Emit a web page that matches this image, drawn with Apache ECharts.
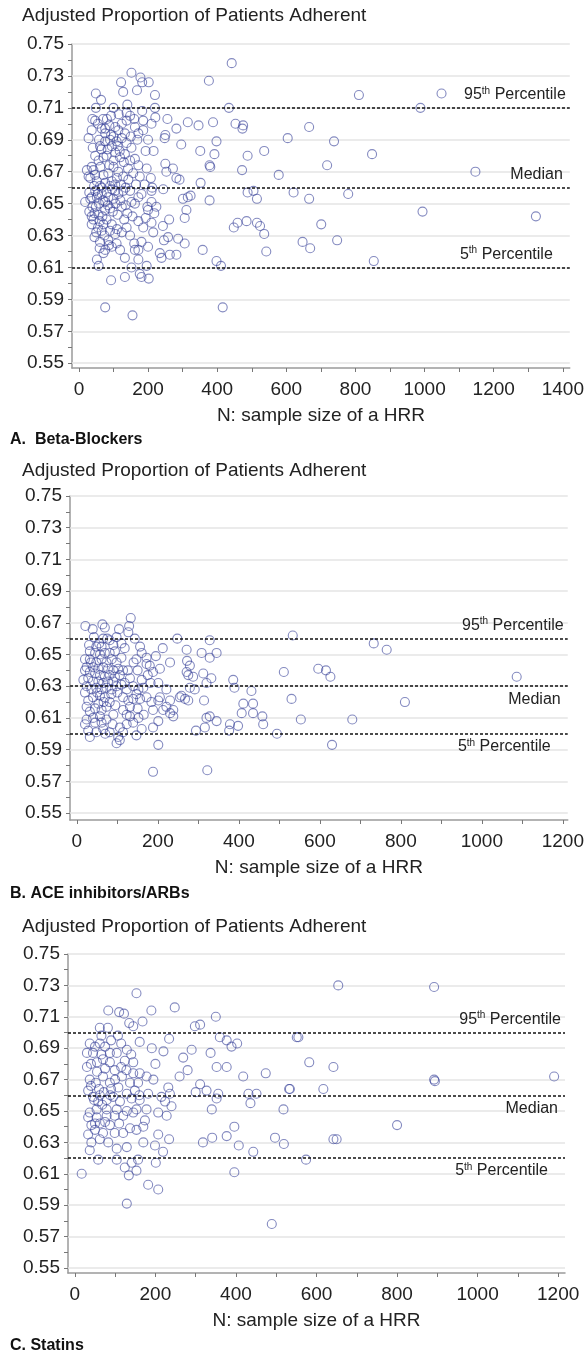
<!DOCTYPE html>
<html>
<head>
<meta charset="utf-8">
<script src="https://cdn.jsdelivr.net/npm/echarts@6/dist/echarts.min.js"></script>
<style>
  html, body { margin: 0; padding: 0; background: #fff; }
  #chart { width: 587px; height: 1357px; }
</style>
</head>
<body>
<div id="chart"></div>
<script>
// [N, adjusted proportion adherent] per HRR
var betaBlockers = [
  [442,0.738],[376,0.727],[152,0.732],[178,0.729],[122,0.726],[183,0.726],[202,0.726],[128,0.720],[168,0.721],[220,0.718],
  [49,0.719],[64,0.715],[434,0.710],[49,0.710],[39,0.703],[47,0.702],[76,0.697],[93,0.705],[81,0.703],[138,0.707],
  [148,0.705],[160,0.703],[183,0.708],[186,0.702],[220,0.710],[221,0.704],[256,0.703],[315,0.701],[346,0.699],[388,0.701],
  [453,0.700],[475,0.699],[473,0.697],[282,0.697],[250,0.693],[248,0.691],[28,0.691],[114,0.696],[133,0.694],[186,0.696],
  [398,0.689],[296,0.687],[351,0.683],[392,0.681],[536,0.683],[488,0.680],[193,0.683],[216,0.683],[169,0.690],[380,0.673],
  [378,0.674],[472,0.671],[250,0.675],[272,0.672],[253,0.670],[282,0.666],[291,0.665],[352,0.663],[212,0.660],[210,0.658],
  [176,0.667],[196,0.672],[208,0.666],[244,0.659],[301,0.653],[323,0.655],[315,0.654],[311,0.646],[306,0.641],[378,0.652],
  [488,0.657],[505,0.658],[515,0.653],[448,0.635],[459,0.638],[485,0.639],[515,0.638],[524,0.636],[536,0.631],[542,0.620],
  [358,0.621],[398,0.614],[411,0.611],[416,0.585],[76,0.585],[155,0.580],[93,0.602],[133,0.604],[181,0.604],[202,0.603],
  [176,0.606],[196,0.611],[152,0.610],[52,0.615],[57,0.611],[133,0.616],[234,0.619],[239,0.616],[263,0.618],[282,0.618],
  [258,0.629],[287,0.628],[306,0.625],[246,0.627],[243,0.636],[261,0.640],[218,0.644],[210,0.638],[193,0.641],[198,0.648],
  [162,0.650],[172,0.654],[131,0.640],[138,0.635],[124,0.632],[148,0.630],[160,0.625],[172,0.621],[181,0.626],[200,0.623],
  [109,0.625],[95,0.623],[76,0.621],[71,0.619],[85,0.627],[45,0.629],[61,0.626],[37,0.642],[45,0.644],[57,0.643],
  [68,0.642],[71,0.637],[55,0.635],[37,0.637],[66,0.633],[18,0.651],[33,0.653],[52,0.654],[49,0.648],[76,0.651],
  [100,0.653],[90,0.647],[106,0.650],[124,0.648],[47,0.658],[61,0.661],[76,0.663],[90,0.661],[105,0.662],[95,0.664],
  [114,0.656],[128,0.658],[148,0.658],[152,0.651],[181,0.656],[33,0.666],[42,0.671],[47,0.668],[28,0.667],[71,0.668],
  [85,0.669],[100,0.673],[114,0.670],[128,0.667],[143,0.665],[157,0.669],[172,0.674],[57,0.677],[71,0.679],[83,0.684],
  [95,0.686],[105,0.682],[119,0.679],[133,0.681],[148,0.677],[162,0.678],[47,0.680],[76,0.689],[90,0.690],[109,0.689],
  [124,0.691],[138,0.688],[152,0.685],[76,0.694],[93,0.693],[105,0.698],[124,0.700],[138,0.702],[162,0.698],[37,0.696],
  [55,0.700],[61,0.686],[37,0.673],[23,0.671],[37,0.654],[66,0.656],[85,0.654],[105,0.658],[39,0.648],[76,0.646],
  [95,0.637],[105,0.631],[119,0.621],[87,0.624],[172,0.639],[186,0.635],[215,0.632],[162,0.621],[172,0.615],[224,0.648],
  [210,0.651],[200,0.646],[58,0.690],[66,0.697],[88,0.699],[100,0.692],[112,0.686],[118,0.683],[130,0.676],[142,0.672],
  [100,0.677],[88,0.674],[62,0.673],[52,0.664],[66,0.660],[80,0.657],[96,0.659],[110,0.666],[122,0.662],[135,0.660],
  [44,0.661],[30,0.657],[58,0.650],[70,0.652],[84,0.649],[98,0.645],[112,0.643],[60,0.639],[80,0.640],[50,0.632],
  [74,0.630],[90,0.633],[60,0.622],[110,0.634],[140,0.644],[155,0.642],[165,0.662],[190,0.662],[150,0.692],[172,0.694],
  [200,0.690],[115,0.706],[100,0.710],[70,0.703],[140,0.712],[210,0.700],[65,0.684],[80,0.680],[40,0.685],[55,0.656],
  [42,0.640],[30,0.645],[120,0.652],[135,0.649],
  [810,0.718],[1049,0.719],[988,0.710],[666,0.698],[604,0.691],[738,0.689],[848,0.681],[718,0.674],[578,0.668],[1147,0.670],
  [621,0.657],[666,0.653],[779,0.656],[994,0.645],[1322,0.642],[701,0.637],[647,0.626],[669,0.622],[747,0.627],[853,0.614]
];
var aceArbs = [
  [133,0.673],[21,0.668],[39,0.666],[63,0.669],[69,0.667],[104,0.666],[129,0.668],[127,0.664],[42,0.661],[65,0.660],
  [81,0.659],[110,0.657],[118,0.654],[248,0.660],[328,0.659],[212,0.654],[271,0.653],[308,0.651],[345,0.651],[328,0.648],
  [195,0.649],[160,0.651],[147,0.647],[172,0.644],[230,0.645],[272,0.646],[279,0.643],[188,0.639],[205,0.641],[271,0.639],
  [275,0.637],[312,0.638],[287,0.636],[332,0.635],[320,0.632],[279,0.629],[291,0.628],[386,0.634],[389,0.629],[431,0.627],
  [411,0.619],[435,0.619],[407,0.613],[435,0.613],[458,0.611],[460,0.606],[378,0.606],[376,0.602],[398,0.605],[345,0.608],
  [320,0.610],[328,0.611],[314,0.621],[294,0.602],[316,0.604],[254,0.623],[267,0.622],[275,0.621],[258,0.624],[230,0.621],
  [221,0.617],[238,0.611],[205,0.623],[201,0.621],[213,0.615],[188,0.615],[188,0.604],[201,0.608],[201,0.593],[188,0.576],
  [322,0.577],[221,0.628],[201,0.632],[182,0.632],[160,0.634],[164,0.629],[147,0.625],[156,0.622],[139,0.622],[127,0.621],
  [114,0.623],[131,0.617],[114,0.615],[123,0.612],[131,0.611],[152,0.610],[139,0.607],[123,0.606],[106,0.604],[114,0.601],
  [102,0.598],[106,0.596],[98,0.594],[160,0.603],[147,0.599],[81,0.601],[65,0.603],[48,0.601],[32,0.598],[28,0.602],
  [20,0.606],[24,0.609],[40,0.610],[57,0.611],[73,0.609],[90,0.612],[61,0.607],[45,0.607],[16,0.634],[24,0.630],
  [20,0.626],[28,0.621],[24,0.617],[32,0.614],[45,0.616],[53,0.619],[61,0.615],[73,0.617],[81,0.620],[69,0.623],
  [57,0.624],[40,0.623],[36,0.628],[48,0.629],[61,0.628],[73,0.629],[86,0.628],[98,0.630],[90,0.633],[77,0.633],
  [65,0.632],[53,0.633],[40,0.633],[28,0.635],[32,0.639],[45,0.638],[57,0.637],[69,0.636],[81,0.637],[94,0.636],
  [106,0.637],[114,0.640],[102,0.641],[90,0.640],[77,0.641],[65,0.642],[53,0.641],[40,0.642],[24,0.642],[20,0.647],
  [32,0.647],[48,0.645],[61,0.647],[73,0.645],[86,0.647],[98,0.645],[69,0.651],[57,0.650],[45,0.651],[81,0.651],
  [94,0.652],[32,0.652],[48,0.655],[61,0.655],[90,0.656],[98,0.661],[143,0.660],[156,0.655],[172,0.648],[180,0.643],
  [131,0.635],[139,0.630],[152,0.628],[123,0.628],[110,0.631],[172,0.623],[184,0.620],[230,0.613],[238,0.615],[35,0.645],
  [50,0.626],[66,0.620],[85,0.625],[95,0.618],[100,0.626],[118,0.632],[126,0.640],[140,0.645],[150,0.640],[55,0.657],
  [75,0.660],[30,0.656],[110,0.648],[20,0.640],[88,0.606],[70,0.600],[150,0.616],[165,0.612],[175,0.637],
  [533,0.662],[733,0.657],[765,0.653],[511,0.639],[596,0.641],[615,0.640],[626,0.636],[1086,0.636],[530,0.622],[810,0.620],
  [553,0.609],[680,0.609],[630,0.593],[494,0.600]
];
var statins = [
  [153,0.725],[83,0.714],[110,0.713],[122,0.712],[190,0.714],[248,0.716],[350,0.710],[311,0.705],[298,0.704],[168,0.707],
  [135,0.706],[145,0.704],[62,0.703],[82,0.703],[66,0.698],[37,0.693],[62,0.693],[107,0.698],[129,0.689],[161,0.694],
  [191,0.690],[234,0.696],[269,0.684],[290,0.689],[337,0.687],[360,0.697],[377,0.695],[389,0.691],[403,0.693],[352,0.678],
  [377,0.678],[418,0.672],[474,0.674],[311,0.667],[327,0.663],[356,0.661],[340,0.651],[352,0.658],[431,0.661],[451,0.661],
  [436,0.655],[532,0.664],[518,0.651],[551,0.697],[232,0.665],[215,0.659],[236,0.661],[224,0.656],[240,0.653],[207,0.649],
  [178,0.672],[195,0.670],[161,0.674],[145,0.674],[157,0.668],[182,0.661],[145,0.681],[124,0.682],[104,0.687],[87,0.681],
  [99,0.676],[117,0.672],[137,0.668],[149,0.663],[129,0.661],[108,0.665],[87,0.668],[70,0.672],[55,0.675],[30,0.678],
  [37,0.670],[33,0.663],[45,0.659],[62,0.660],[79,0.657],[95,0.659],[112,0.656],[141,0.658],[161,0.657],[178,0.651],
  [153,0.651],[129,0.650],[104,0.651],[79,0.651],[54,0.651],[37,0.649],[30,0.687],[45,0.687],[50,0.691],[75,0.691],
  [87,0.687],[70,0.683],[55,0.681],[17,0.610],[129,0.591],[182,0.603],[207,0.600],[134,0.609],[124,0.614],[141,0.617],
  [153,0.612],[157,0.619],[104,0.619],[58,0.619],[201,0.617],[219,0.624],[199,0.628],[207,0.635],[234,0.632],[170,0.630],
  [174,0.644],[228,0.647],[129,0.627],[104,0.626],[37,0.625],[41,0.630],[62,0.632],[83,0.630],[99,0.636],[120,0.636],
  [137,0.639],[153,0.638],[33,0.635],[50,0.638],[70,0.636],[41,0.641],[62,0.642],[87,0.641],[33,0.646],[54,0.646],
  [79,0.647],[99,0.647],[120,0.647],[145,0.649],[318,0.630],[341,0.633],[377,0.634],[396,0.640],[407,0.628],[443,0.624],
  [396,0.611],[497,0.633],[519,0.629],[489,0.578],[40,0.666],[52,0.668],[60,0.664],[72,0.662],[88,0.660],[58,0.656],
  [68,0.654],[48,0.657],[90,0.664],[100,0.670],[115,0.678],[128,0.676],[140,0.686],[75,0.677],[40,0.680],[66,0.686],
  [90,0.695],[115,0.693],[50,0.642],[75,0.643],[110,0.642],[170,0.640],[160,0.660],[200,0.680],[220,0.688],[260,0.672],
  [280,0.676],[300,0.662],
  [654,0.730],[892,0.729],[555,0.697],[582,0.681],[642,0.678],[892,0.670],[894,0.669],[1190,0.672],[534,0.664],[617,0.664],
  [800,0.641],[642,0.632],[650,0.632],[574,0.619]
];

// reference lines: 95th percentile, median, 5th percentile
var refBeta = [0.71, 0.66, 0.61];
var refAce = [0.66, 0.63, 0.60];
var refStatins = [0.70, 0.66, 0.62];

var yTicks = [0.55, 0.57, 0.59, 0.61, 0.63, 0.65, 0.67, 0.69, 0.71, 0.73, 0.75];
var yTickMarks = [0.55, 0.56, 0.57, 0.58, 0.59, 0.60, 0.61, 0.62, 0.63, 0.64, 0.65,
                  0.66, 0.67, 0.68, 0.69, 0.70, 0.71, 0.72, 0.73, 0.74, 0.75];
var xTicksBeta = [0, 200, 400, 600, 800, 1000, 1200, 1400];
var xTickMarksBeta = [0, 100, 200, 300, 400, 500, 600, 700, 800, 900, 1000, 1100, 1200, 1300, 1400];
var xTicksOther = [0, 200, 400, 600, 800, 1000, 1200];
var xTickMarksOther = [0, 100, 200, 300, 400, 500, 600, 700, 800, 900, 1000, 1100, 1200];

var yTitle = 'Adjusted Proportion of Patients Adherent';
var xTitle = 'N: sample size of a HRR';
var panelNames = ['A.  Beta-Blockers', 'B. ACE inhibitors/ARBs', 'C. Statins'];

var FONT = '"Liberation Sans", Arial, sans-serif';

var panels = [
  {data: betaBlockers, ref: refBeta, xTicks: xTicksBeta, xMarks: xTickMarksBeta, left: 72, top: 44, width: 501, height: 324,
   xMin: -20, xMax: 1420, yMin: 0.547, titleY: 17, nameY: 441, pos: ['insideEndTop', 'insideEndTop', 'insideEndTop']},
  {data: aceArbs, ref: refAce, xTicks: xTicksOther, xMarks: xTickMarksOther, left: 70, top: 496, width: 498, height: 324,
   xMin: -17, xMax: 1212, yMin: 0.5456, titleY: 472, nameY: 895, pos: ['insideEndTop', 'insideEndBottom', 'insideEndBottom']},
  {data: statins, ref: refStatins, xTicks: xTicksOther, xMarks: xTickMarksOther, left: 68, top: 954, width: 497, height: 319,
   xMin: -17, xMax: 1217, yMin: 0.5468, titleY: 928, nameY: 1347, pos: ['insideEndTop', 'insideEndBottom', 'insideEndBottom']}
];

var refText = ['{n|95}{s|th}{n| Percentile}', '{n|Median}', '{n|5}{s|th}{n| Percentile}'];
var refPad = [[0, 0, 0, 0], [0, 3, 0, 0], [0, 13, 0, 0]];

var grids = [], xAxes = [], yAxes = [], series = [], graphics = [];

panels.forEach(function (p, i) {
  grids.push({left: p.left, top: p.top, width: p.width, height: p.height});
  xAxes.push({
    type: 'value', gridIndex: i, min: p.xMin, max: p.xMax,
    name: xTitle, nameLocation: 'middle', nameGap: 38,
    nameTextStyle: {fontFamily: FONT, fontSize: 19, color: '#222'},
    axisLine: {show: true, onZero: false, lineStyle: {color: '#9a9a9a', width: 1.5}},
    axisTick: {show: true, length: 4, customValues: p.xMarks, lineStyle: {color: '#777'}},
    axisLabel: {
      fontFamily: FONT, fontSize: 19, color: '#222', margin: 12,
      customValues: p.xTicks,
      formatter: function (v) { return String(Math.round(v)); }
    },
    splitLine: {show: false}
  });
  yAxes.push({
    type: 'value', gridIndex: i, min: p.yMin, max: 0.75,
    axisLine: {show: true, onZero: false, lineStyle: {color: '#9a9a9a', width: 1.5}},
    axisTick: {show: true, length: 4, customValues: yTickMarks, lineStyle: {color: '#777'}},
    axisLabel: {
      fontFamily: FONT, fontSize: 19, color: '#222', margin: 8,
      customValues: yTicks,
      formatter: function (v) { return v.toFixed(2); }
    },
    splitLine: {show: false}
  });
  // light horizontal grid lines
  series.push({
    type: 'scatter', xAxisIndex: i, yAxisIndex: i, data: [], silent: true, z: 1,
    markLine: {
      silent: true, symbol: 'none', animation: false, z: 1,
      label: {show: false},
      lineStyle: {color: '#e4e4e4', width: 1.5, type: 'solid'},
      data: yTicks.map(function (t) { return {yAxis: t}; })
    }
  });
  series.push({
    type: 'scatter', xAxisIndex: i, yAxisIndex: i, data: p.data, z: 3,
    symbol: 'circle', symbolSize: 9,
    itemStyle: {color: 'rgba(0,0,0,0)', borderColor: 'rgba(50,60,150,0.75)', borderWidth: 1.1},
    markLine: {
      silent: true, symbol: 'none', animation: false, z: 4,
      lineStyle: {color: '#111', width: 1.5, type: [3, 2]},
      data: p.ref.map(function (v, k) {
        return {
          yAxis: v,
          label: {
            show: true, position: p.pos[k], formatter: refText[k], padding: refPad[k], distance: 4,
            rich: {
              n: {fontFamily: FONT, fontSize: 16, color: '#222', lineHeight: 18},
              s: {fontFamily: FONT, fontSize: 10, color: '#222', padding: [0, 0, 8, 0]}
            }
          }
        };
      })
    }
  });
  graphics.push({
    type: 'text', left: 22, top: p.titleY - 11,
    style: {text: yTitle, font: '19px ' + FONT, fill: '#222'}
  });
  graphics.push({
    type: 'text', left: 10, top: p.nameY - 9,
    style: {text: panelNames[i], font: 'bold 16px ' + FONT, fill: '#111'}
  });
});

var chart = echarts.init(document.getElementById('chart'));
chart.setOption({
  animation: false,
  grid: grids,
  xAxis: xAxes,
  yAxis: yAxes,
  series: series,
  graphic: graphics
});
</script>
</body>
</html>
